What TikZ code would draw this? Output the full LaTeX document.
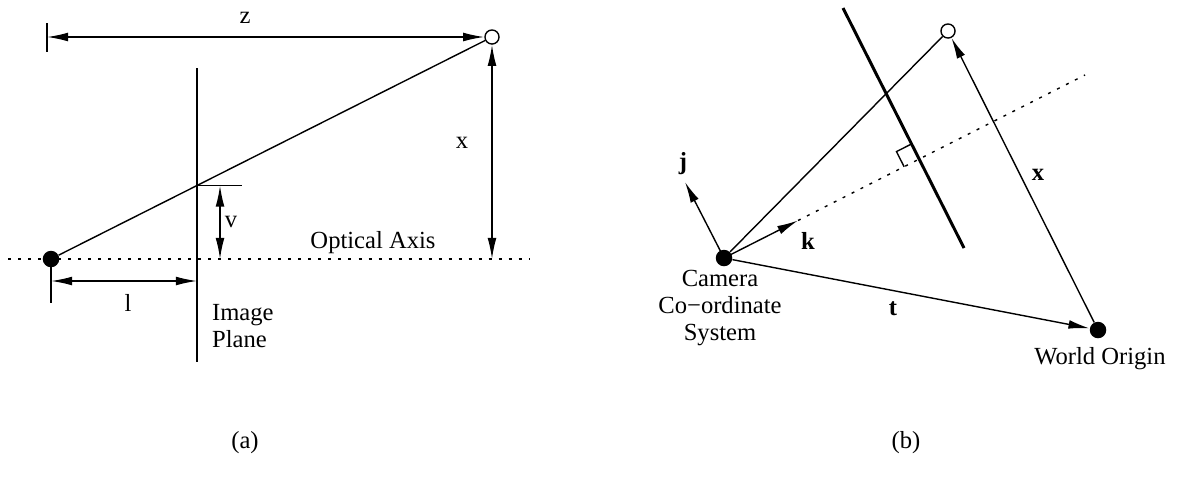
\documentclass[tikz,border=0pt]{standalone}
\usepackage{fontspec}
\setmainfont{Liberation Serif}
\usetikzlibrary{arrows.meta,calc}
\tikzset{
  thinln/.style={line width=0.8pt},
  planeln/.style={line width=1.7pt},
  axisln/.style={line width=0.8pt,dash pattern=on 1.7pt off 4pt},
  headtip/.tip={Latex[length=12pt,width=5pt]},
  dimarr/.style={thinln,headtip-headtip},
  vecarr/.style={thinln,-headtip},
  campt/.style={circle,fill=black,inner sep=0pt,minimum size=9.4pt},
  objpt/.style={circle,draw=black,fill=white,thinln,inner sep=0pt,minimum size=8pt},
  lbl/.style={inner sep=1pt,font=\fontsize{14}{15.5}\selectfont},
}

\begin{document}
\begin{tikzpicture}[x=0.02cm,y=-0.02cm]
\useasboundingbox (0,0) rectangle (1180,488);

% (a)
\coordinate (camA) at (51,259);
\coordinate (objA) at (492,37);
\coordinate (planeTopA) at (197,68);
\coordinate (planeBotA) at (197,362);
\coordinate (axLA) at (8,259);
\coordinate (axRA) at (530,259);
\coordinate (hitA) at (intersection of camA--objA and planeTopA--planeBotA);
\coordinate (zLA) at (47,37);
\coordinate (vTopA) at ($(hitA)+(23,0)$);
\coordinate (vBotA) at (vTopA |- camA);
\coordinate (xBotA) at (objA |- camA);
\coordinate (lLA) at ($(camA)+(0,22)$);
\coordinate (lRA) at (lLA -| planeTopA);

\draw[axisln] (axLA) -- (axRA);
\draw[planeln] (planeTopA) -- (planeBotA);
\node[campt] (camptA) at (camA) {};
\node[objpt] (objptA) at (objA) {};
\draw[thinln] (camptA) -- (objptA);
\draw[thinln] (hitA) -- ++(45,0);
\draw[thinln] (47,23) -- (47,52);
\draw[thinln] (camA) -- ++(0,44);
\draw[dimarr] (zLA) -- (objptA);
\draw[dimarr] (objptA) -- (xBotA);
\draw[dimarr] (vTopA) -- (vBotA);
\draw[dimarr] (lLA) -- (lRA);

\node[lbl] (zlblA) at (245,18) {z};
\node[lbl] (xlblA) at (462,143) {x};
\node[lbl] (vlblA) at (231,222) {v};
\node[lbl] (llblA) at (128,303) {l};
\node[lbl] (axislblA) at (373,243) {Optical Axis};
\node[lbl,anchor=west,align=left] (planelblA) at (210,326) {Image\\Plane};
\node[lbl] (capA) at (245,443) {(a)};

% (b)
\coordinate (camB) at (724,258);
\coordinate (objB) at (948,31);
\coordinate (origB) at (1098,330);
\coordinate (axEndB) at (1085,75);
\coordinate (kTipB) at ($(camB)!0.205!(axEndB)$);
\coordinate (jTipB) at (685,182);
\coordinate (planeTopB) at (843,8);
\coordinate (planeBotB) at (964,248);
\coordinate (footB) at (intersection of camB--axEndB and planeTopB--planeBotB);
\coordinate (mkPB) at ($(footB)!0.34cm!(planeTopB)$);
\coordinate (mkAB) at ($(footB)!0.34cm!(camB)$);

\draw[axisln] (kTipB) -- (axEndB);
\draw[planeln] (planeTopB) -- (planeBotB);
\draw[thinln] (mkPB) -- ($(mkPB)+(mkAB)-(footB)$) -- (mkAB);
\node[campt] (camptB) at (camB) {};
\node[objpt] (objptB) at (objB) {};
\node[campt] (origptB) at (origB) {};
\draw[thinln] (camptB) -- (objptB);
\draw[vecarr] (camB) -- (kTipB);
\draw[vecarr] (camB) -- (jTipB);
\draw[vecarr] (camptB) -- (origptB);
\draw[vecarr] (origptB) -- (objptB);

\node[lbl] (jlblB) at (683,164) {\textbf{j}};
\node[lbl] (klblB) at (808,241) {\textbf{k}};
\node[lbl] (xlblB) at (1038,175) {\textbf{x}};
\node[lbl] (tlblB) at (893,309) {\textbf{t}};
\node[lbl,align=center] (camlblB) at (720,308) {Camera\\Co−ordinate\\System};
\node[lbl] (origlblB) at (1100,359) {World Origin};
\node[lbl] (capB) at (906,443) {(b)};

\end{tikzpicture}
\end{document}
